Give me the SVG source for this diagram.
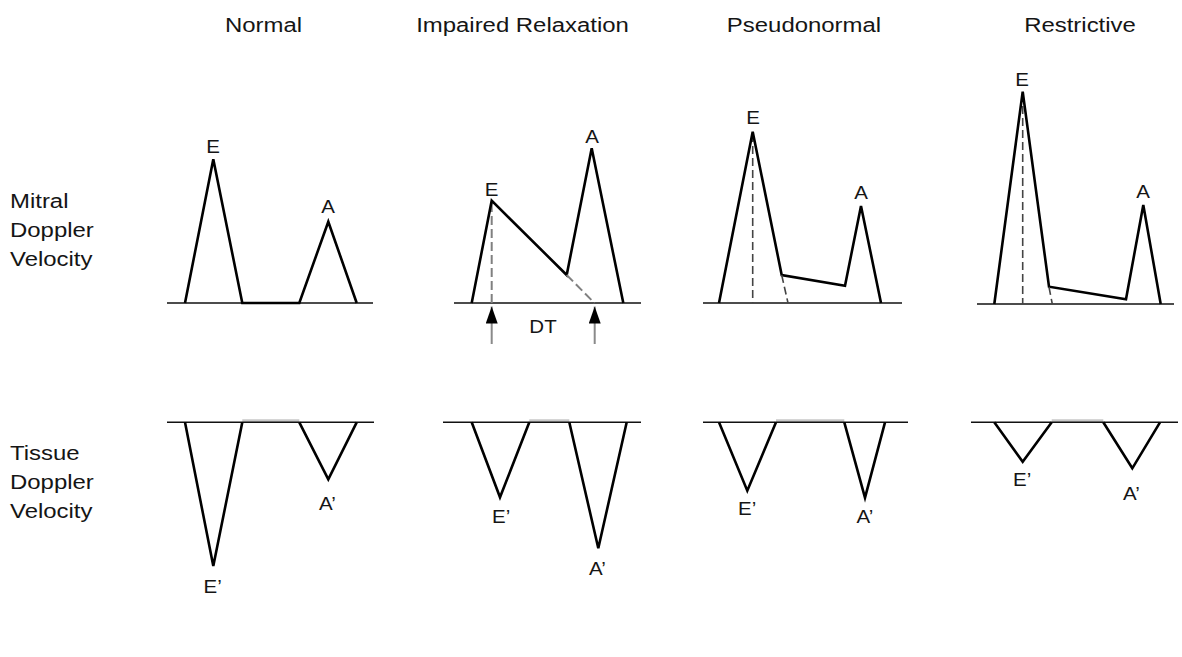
<svg xmlns="http://www.w3.org/2000/svg" width="1182" height="657" viewBox="0 0 1182 657">
<style>
text{font-family:"Liberation Sans",Arial,sans-serif;fill:#151515}
.t{font-size:21px}
.p{font-size:18px}
.base{stroke:#111;stroke-width:1.6;fill:none}
.wave{stroke:#000;stroke-width:2.6;fill:none;stroke-linejoin:miter}
.flat{stroke:#c8c8c8;stroke-width:3;fill:none}
.dash{stroke:#444;stroke-width:1.6;stroke-dasharray:8 4;fill:none}
.dashg{stroke:#808080;stroke-width:2;stroke-dasharray:9 4;fill:none}
.shaft{stroke:#8a8a8a;stroke-width:2;fill:none}
</style>
<defs>
<marker id="ah" viewBox="0 0 17 12" refX="17" refY="6" markerWidth="17" markerHeight="12" markerUnits="userSpaceOnUse" orient="auto">
<path d="M17,6 L0,0 L0,12 Z" fill="#000"/>
</marker>
</defs>
<rect width="1182" height="657" fill="#fff"/>

<g id="titles">
<text class="t" text-anchor="middle" transform="translate(263.5,32) scale(1.14,1)">Normal</text>
<text class="t" text-anchor="middle" transform="translate(522.5,32) scale(1.14,1)">Impaired Relaxation</text>
<text class="t" text-anchor="middle" transform="translate(804,32) scale(1.14,1)">Pseudonormal</text>
<text class="t" text-anchor="middle" transform="translate(1080,32) scale(1.14,1)">Restrictive</text>
</g>

<g id="row-labels">
<text class="t" transform="translate(10,207.5) scale(1.14,1)">Mitral</text>
<text class="t" transform="translate(10,236.5) scale(1.14,1)">Doppler</text>
<text class="t" transform="translate(10,265.5) scale(1.14,1)">Velocity</text>
<text class="t" transform="translate(10,460) scale(1.14,1)">Tissue</text>
<text class="t" transform="translate(10,489) scale(1.14,1)">Doppler</text>
<text class="t" transform="translate(10,518) scale(1.14,1)">Velocity</text>
</g>

<g id="mitral-normal">
<line class="base" x1="167" y1="303" x2="373" y2="303"/>
<polyline class="wave" points="185,303 213.3,159.3 242.3,303 299.3,303 328.3,221.7 356.7,303"/>
<text class="p" text-anchor="middle" transform="translate(213,153) scale(1.14,1)">E</text>
<text class="p" text-anchor="middle" transform="translate(328,213) scale(1.14,1)">A</text>
</g>

<g id="mitral-impaired">
<line class="base" x1="454" y1="303" x2="641" y2="303"/>
<line class="dashg" x1="491.7" y1="203" x2="491.7" y2="303"/>
<polyline class="wave" points="471.7,303 491.7,200.7 566.7,275 591.7,148.3 623.3,303"/>
<line class="dashg" x1="566.7" y1="275" x2="594.5" y2="303"/>
<text class="p" text-anchor="middle" transform="translate(491.5,196) scale(1.14,1)">E</text>
<text class="p" text-anchor="middle" transform="translate(592,143) scale(1.14,1)">A</text>
<text class="p" text-anchor="middle" transform="translate(543,333) scale(1.14,1)">DT</text>
</g>

<g id="mitral-pseudonormal">
<line class="base" x1="703" y1="303" x2="902" y2="303"/>
<line class="dash" x1="752.7" y1="134" x2="752.7" y2="303"/>
<polyline class="wave" points="719,303 752.7,131.7 781.7,275 845,285.7 861,206 881,303"/>
<line class="dash" x1="781.7" y1="275" x2="788" y2="303"/>
<text class="p" text-anchor="middle" transform="translate(753,123.5) scale(1.14,1)">E</text>
<text class="p" text-anchor="middle" transform="translate(861,199) scale(1.14,1)">A</text>
</g>

<g id="mitral-restrictive">
<line class="base" x1="977" y1="304" x2="1174" y2="304"/>
<line class="dash" x1="1022.7" y1="94" x2="1022.7" y2="304"/>
<polyline class="wave" points="994.3,304 1022.7,91.7 1049,286.7 1126,299.3 1143.3,205 1160.7,304"/>
<line class="dash" x1="1049" y1="287" x2="1052.3" y2="304"/>
<text class="p" text-anchor="middle" transform="translate(1022,86) scale(1.14,1)">E</text>
<text class="p" text-anchor="middle" transform="translate(1143,198) scale(1.14,1)">A</text>
</g>

<g id="tissue-normal">
<line class="flat" x1="242.3" y1="420.8" x2="299.3" y2="420.8"/>
<line class="base" x1="167" y1="422.3" x2="374" y2="422.3"/>
<polyline class="wave" points="185,422.3 213.3,566 242.3,422.3"/>
<polyline class="wave" points="299.3,422.3 328.3,479.3 356.7,422.3"/>
<text class="p" transform="translate(203.5,593) scale(1.14,1)">E’</text>
<text class="p" transform="translate(319,509.5) scale(1.14,1)">A’</text>
</g>

<g id="tissue-impaired">
<line class="flat" x1="529.3" y1="420.8" x2="569.3" y2="420.8"/>
<line class="base" x1="443" y1="422.3" x2="641" y2="422.3"/>
<polyline class="wave" points="471.7,422.3 500,497.3 529.3,422.3"/>
<polyline class="wave" points="569.3,422.3 598.3,548.3 626.7,422.3"/>
<text class="p" transform="translate(492,523) scale(1.14,1)">E’</text>
<text class="p" transform="translate(589,575) scale(1.14,1)">A’</text>
</g>

<g id="tissue-pseudonormal">
<line class="flat" x1="776" y1="420.8" x2="844.3" y2="420.8"/>
<line class="base" x1="703" y1="422.3" x2="908" y2="422.3"/>
<polyline class="wave" points="719,422.3 747.3,490.7 776,422.3"/>
<polyline class="wave" points="844.3,422.3 865,497.7 885,422.3"/>
<text class="p" transform="translate(738,515) scale(1.14,1)">E’</text>
<text class="p" transform="translate(856.5,523) scale(1.14,1)">A’</text>
</g>

<g id="tissue-restrictive">
<line class="flat" x1="1051.7" y1="420.8" x2="1103.3" y2="420.8"/>
<line class="base" x1="971" y1="422.3" x2="1178" y2="422.3"/>
<polyline class="wave" points="994.3,422.3 1022.7,461.7 1051.7,422.3"/>
<polyline class="wave" points="1103.3,422.3 1132.3,468.3 1160,422.3"/>
<text class="p" transform="translate(1013,486) scale(1.14,1)">E’</text>
<text class="p" transform="translate(1123,500) scale(1.14,1)">A’</text>
</g>

<g id="connectors">
<line class="shaft" x1="491.7" y1="344" x2="491.7" y2="306.5" marker-end="url(#ah)"/>
<line class="shaft" x1="594.7" y1="344" x2="594.7" y2="306.5" marker-end="url(#ah)"/>
</g>
</svg>
